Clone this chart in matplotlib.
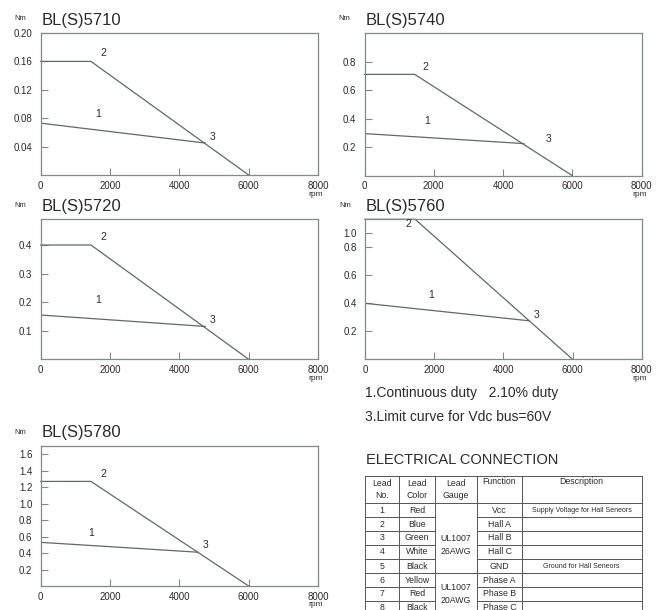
import matplotlib.pyplot as plt
import numpy as np

plt.rcParams['font.family'] = ['Liberation Sans', 'DejaVu Sans']

# torque / speed curves
models = ['BL(S)5710', 'BL(S)5740', 'BL(S)5720', 'BL(S)5760', 'BL(S)5780']
peak_torque = [0.16, 0.71, 0.40, 1.00, 1.27]      # curve 2, flat part (Nm)
cont_start = [0.073, 0.295, 0.155, 0.40, 0.53]    # curve 1 at 0 rpm
cont_end = [0.045, 0.225, 0.115, 0.275, 0.41]     # curve 1 at its end
cont_end_rpm = [4750, 4600, 4750, 4750, 4550]
corner_rpm = 1450
no_load_rpm = 6000
y_max = [0.20, 1.0, 0.49, 1.0, 1.7]
y_ticks = [[0.04, 0.08, 0.12, 0.16, 0.20],
           [0.2, 0.4, 0.6, 0.8],
           [0.1, 0.2, 0.3, 0.4],
           [0.2, 0.4, 0.6, 0.8, 0.9],
           [0.2, 0.4, 0.6, 0.8, 1.0, 1.2, 1.4, 1.6]]
y_ticklabels = [['0.04', '0.08', '0.12', '0.16', '0.20'],
                ['0.2', '0.4', '0.6', '0.8'],
                ['0.1', '0.2', '0.3', '0.4'],
                ['0.2', '0.4', '0.6', '0.8', '1.0'],
                ['0.2', '0.4', '0.6', '0.8', '1.0', '1.2', '1.4', '1.6']]
x_ticks = [0, 2000, 4000, 6000, 8000]
label_pos = [[(1800, 0.165), (1650, 0.079), (4950, 0.047)],
             [(1750, 0.73), (1800, 0.35), (5300, 0.22)],
             [(1800, 0.41), (1650, 0.19), (4950, 0.12)],
             [(1250, 0.93), (1900, 0.42), (4950, 0.28)],
             [(1800, 1.30), (1450, 0.58), (4750, 0.44)]]

# table contents
lead_no = ['1', '2', '3', '4', '5', '6', '7', '8']
lead_color = ['Red', 'Blue', 'Green', 'White', 'Black', 'Yellow', 'Red', 'Black']
lead_func = ['Vcc', 'Hall A', 'Hall B', 'Hall C', 'GND', 'Phase A', 'Phase B', 'Phase C']
lead_desc = ['Supply Voltage for Hall Seneors', '', '', '', 'Ground for Hall Seneors', '', '', '']

W, H = 656, 610
fig = plt.figure(figsize=(W / 100, H / 100), dpi=100)

line_c = '#5d6b64'
frame_c = '#7f8c86'
text_c = '#2b2b2b'

# axes boxes in pixels: left, top, right, bottom
boxes = [(40.7, 33, 318, 175), (364.5, 33, 641.7, 175.7),
         (40.7, 219.3, 318, 359.3), (365, 219.3, 641.7, 359.3),
         (40.7, 446, 318, 586)]

bg = fig.add_axes([0, 0, 1, 1], zorder=-1)
bg.set_xlim(0, W)
bg.set_ylim(H, 0)
bg.axis('off')

for i, m in enumerate(models):
    l, t, r, b = boxes[i]
    ax = fig.add_axes([l / W, 1 - b / H, (r - l) / W, (b - t) / H])
    rpm2 = [0, corner_rpm, no_load_rpm]
    tq2 = [peak_torque[i], peak_torque[i], 0]
    ax.plot(rpm2, tq2, color=line_c, lw=0.9, clip_on=False)
    ax.plot([0, cont_end_rpm[i]], [cont_start[i], cont_end[i]], color=line_c, lw=0.9)
    for k, (lx, ly) in enumerate(label_pos[i]):
        ax.text(lx, ly, ['2', '1', '3'][k], fontsize=7.5, color=text_c,
                ha='center', va='bottom')
    ax.set_xlim(0, 8000)
    ax.set_ylim(0, y_max[i])
    ax.set_xticks(x_ticks)
    ax.set_xticklabels([str(v) for v in x_ticks])
    ax.set_yticks(y_ticks[i])
    ax.set_yticklabels(y_ticklabels[i])
    ax.tick_params(direction='in', length=5, width=0.8, color=frame_c,
                   labelsize=7, labelcolor=text_c)
    ax.tick_params(axis='y', pad=6)
    ax.tick_params(axis='x', pad=4)
    for s in ax.spines.values():
        s.set_color(frame_c)
        s.set_linewidth(0.9)
    bg.text(l - 26, t - 14, 'Nm', fontsize=5.5, color=text_c, va='center', ha='left')
    bg.text(l + 1, t - 13, m, fontsize=12, color=text_c, va='center', ha='left')
    bg.text(r - 2, b + 19, 'rpm', fontsize=6, color=text_c, va='center', ha='center')

bg.text(365, 393, '1.Continuous duty   2.10% duty', fontsize=10, color=text_c, va='center')
bg.text(365, 417, '3.Limit curve for Vdc bus=60V', fontsize=10, color=text_c, va='center')
bg.text(366, 460, 'ELECTRICAL CONNECTION', fontsize=10.5, color=text_c, va='center')

# table
cols = [365, 399.3, 435, 477.3, 521.7, 641.7]
rows = [475.7, 503.3, 517.3, 531, 545, 559, 573.3, 587, 601, 615]
tc = '#555555'
tk = dict(fontsize=6.3, color=text_c, ha='center', va='center')
bg.plot([cols[0], cols[-1]], [rows[0], rows[0]], color=tc, lw=0.7)
bg.plot([cols[0], cols[-1]], [rows[1], rows[1]], color=tc, lw=0.7)
for c in cols:
    bg.plot([c, c], [rows[0], rows[-1]], color=tc, lw=0.7)
for j in range(2, len(rows)):
    y = rows[j]
    for a, b2 in [(0, 2), (3, 5)]:
        bg.plot([cols[a], cols[b2]], [y, y], color=tc, lw=0.7)
bg.plot([cols[2], cols[3]], [rows[6], rows[6]], color=tc, lw=0.7)

hy = (rows[0] + rows[1]) / 2
bg.text((cols[0] + cols[1]) / 2, hy, 'Lead\nNo.', linespacing=1.4, **tk)
bg.text((cols[1] + cols[2]) / 2, hy, 'Lead\nColor', linespacing=1.4, **tk)
bg.text((cols[2] + cols[3]) / 2, hy, 'Lead\nGauge', linespacing=1.4, **tk)
bg.text((cols[3] + cols[4]) / 2, rows[0] + 6, 'Function', **tk)
bg.text((cols[4] + cols[5]) / 2, rows[0] + 6, 'Description', **tk)
for j in range(len(lead_no)):
    yc = (rows[j + 1] + rows[j + 2]) / 2
    bg.text((cols[0] + cols[1]) / 2, yc, lead_no[j], **tk)
    bg.text((cols[1] + cols[2]) / 2, yc, lead_color[j], **tk)
    bg.text((cols[3] + cols[4]) / 2, yc, lead_func[j], **tk)
    if lead_desc[j]:
        bg.text((cols[4] + cols[5]) / 2, yc, lead_desc[j], fontsize=5,
                color=text_c, ha='center', va='center')
bg.text((cols[2] + cols[3]) / 2, rows[4], 'UL1007\n26AWG', linespacing=1.6, **tk)
bg.text((cols[2] + cols[3]) / 2, (rows[6] + rows[9]) / 2, 'UL1007\n20AWG', linespacing=1.6, **tk)

fig.savefig('out.png', dpi=100)
